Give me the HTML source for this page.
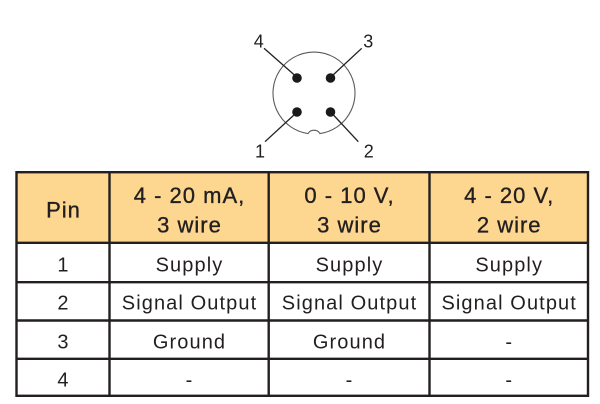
<!DOCTYPE html>
<html>
<head>
<meta charset="utf-8">
<style>
  html, body { margin:0; padding:0; background:#ffffff; }
  body { width:600px; height:404px; overflow:hidden; }
  svg { display:block; }
  .lbl { font-family:"Liberation Sans", "DejaVu Sans", sans-serif; font-size:18px; fill:#231f20; }
  .hd { font-family:"Liberation Sans", "DejaVu Sans", sans-serif; font-size:22px; fill:#231f20; stroke:#231f20; stroke-width:0.35px; letter-spacing:1px; }
  .bd { font-family:"Liberation Sans", "DejaVu Sans", sans-serif; font-size:20px; fill:#231f20; letter-spacing:1.1px; }
</style>
</head>
<body>
<svg width="600" height="404" viewBox="0 0 600 404" xmlns="http://www.w3.org/2000/svg">
  <!-- Connector -->
  <path d="M 308 133.6 A 41 41 0 1 1 320 133.6 A 7 7 0 0 0 308 133.6 Z" fill="#ffffff" stroke="#5a5a5a" stroke-width="1.1"/>
  <circle cx="297" cy="78" r="4.8" fill="#1a1a1a"/>
  <circle cx="330.5" cy="78" r="4.8" fill="#1a1a1a"/>
  <circle cx="297" cy="112" r="4.8" fill="#1a1a1a"/>
  <circle cx="330.5" cy="112" r="4.8" fill="#1a1a1a"/>
  <g stroke="#231f20" stroke-width="1.3" fill="none">
    <line x1="264" y1="48.3" x2="295" y2="75.5"/>
    <line x1="361.7" y1="48.3" x2="332.5" y2="75.5"/>
    <line x1="265" y1="141.7" x2="294.5" y2="114.5"/>
    <line x1="358.3" y1="141.7" x2="333" y2="114.5"/>
  </g>
  <text class="lbl" x="258.7" y="47.3" text-anchor="middle">4</text>
  <text class="lbl" x="368.3" y="47.3" text-anchor="middle">3</text>
  <text class="lbl" x="260" y="157.3" text-anchor="middle">1</text>
  <text class="lbl" x="368.7" y="157.3" text-anchor="middle">2</text>

  <!-- Table -->
  <rect x="16.5" y="172.2" width="571.5" height="70.6" fill="#fdd68f"/>
  <g stroke="#231f20" stroke-width="2.4" fill="none">
    <rect x="16.5" y="172.2" width="571.5" height="223.6"/>
    <line x1="16.5" y1="242.8" x2="588" y2="242.8"/>
    <line x1="16.5" y1="282.2" x2="588" y2="282.2"/>
    <line x1="16.5" y1="320.5" x2="588" y2="320.5"/>
    <line x1="16.5" y1="358.8" x2="588" y2="358.8"/>
    <line x1="109.5" y1="172.2" x2="109.5" y2="395.8"/>
    <line x1="268.7" y1="172.2" x2="268.7" y2="395.8"/>
    <line x1="429.5" y1="172.2" x2="429.5" y2="395.8"/>
  </g>

  <!-- Header text -->
  <text class="hd" x="63.5" y="217.3" text-anchor="middle">Pin</text>
  <text class="hd" x="189.5" y="203" text-anchor="middle">4 - 20 mA,</text>
  <text class="hd" x="189.5" y="232.3" text-anchor="middle">3 wire</text>
  <text class="hd" x="349.5" y="203" text-anchor="middle">0 - 10 V,</text>
  <text class="hd" x="349.5" y="232.3" text-anchor="middle">3 wire</text>
  <text class="hd" x="509.2" y="203" text-anchor="middle">4 - 20 V,</text>
  <text class="hd" x="509.2" y="232.3" text-anchor="middle">2 wire</text>

  <!-- Row 1 -->
  <text class="bd" x="63.5" y="271.5" text-anchor="middle">1</text>
  <text class="bd" x="189.5" y="271.5" text-anchor="middle">Supply</text>
  <text class="bd" x="349.5" y="271.5" text-anchor="middle">Supply</text>
  <text class="bd" x="509.2" y="271.5" text-anchor="middle">Supply</text>
  <!-- Row 2 -->
  <text class="bd" x="63.5" y="309.7" text-anchor="middle">2</text>
  <text class="bd" x="189.5" y="309.7" text-anchor="middle">Signal Output</text>
  <text class="bd" x="349.5" y="309.7" text-anchor="middle">Signal Output</text>
  <text class="bd" x="509.2" y="309.7" text-anchor="middle">Signal Output</text>
  <!-- Row 3 -->
  <text class="bd" x="63.5" y="348.3" text-anchor="middle">3</text>
  <text class="bd" x="189.5" y="348.3" text-anchor="middle">Ground</text>
  <text class="bd" x="349.5" y="348.3" text-anchor="middle">Ground</text>
  <text class="bd" x="509.2" y="348.3" text-anchor="middle">-</text>
  <!-- Row 4 -->
  <text class="bd" x="63.5" y="386.6" text-anchor="middle">4</text>
  <text class="bd" x="189.5" y="386.6" text-anchor="middle">-</text>
  <text class="bd" x="349.5" y="386.6" text-anchor="middle">-</text>
  <text class="bd" x="509.2" y="386.6" text-anchor="middle">-</text>
</svg>
</body>
</html>
